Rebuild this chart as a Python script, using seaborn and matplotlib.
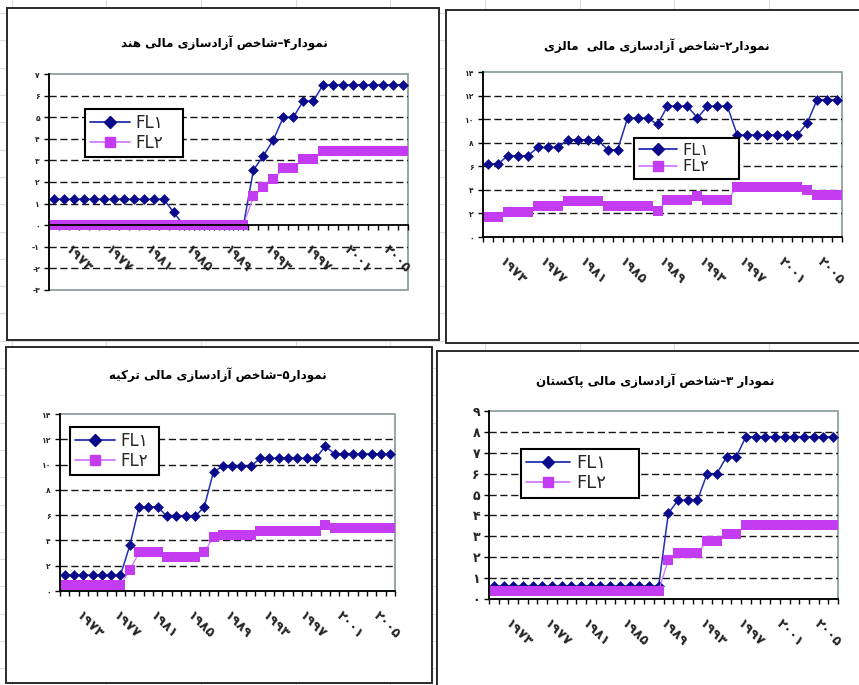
import re
import numpy as np
import pandas as pd
import matplotlib
matplotlib.use("Agg")
import matplotlib.pyplot as plt
import seaborn as sns
from matplotlib.lines import Line2D
from matplotlib.patches import Rectangle
from matplotlib.transforms import ScaledTranslation

# ---------------- data ----------------
years = list(range(1973, 2009))
year_ticks = [1973, 1977, 1981, 1985, 1989, 1993, 1997, 2001, 2005]
year_tick_labels = ["۱۹۷۳", "۱۹۷۷", "۱۹۸۱", "۱۹۸۵", "۱۹۸۹", "۱۹۹۳", "۱۹۹۷", "۲۰۰۱", "۲۰۰۵"]
series_names = ["FL۱", "FL۲"]

india_title = "نمودار۴–شاخص آزادسازی مالی هند"
india_fl1 = [1.2, 1.2, 1.2, 1.2, 1.2, 1.2, 1.2, 1.2, 1.2, 1.2, 1.2, 1.2,
             0.6, 0, 0, 0, 0, 0, 0, 0,
             2.55, 3.22, 3.95, 5.0, 5.0, 5.75, 5.75,
             6.5, 6.5, 6.5, 6.5, 6.5, 6.5, 6.5, 6.5, 6.5]
india_fl2 = [0, 0, 0, 0, 0, 0, 0, 0, 0, 0, 0, 0, 0, 0, 0, 0, 0, 0, 0, 0,
             1.33, 1.75, 2.12, 2.63, 2.63, 3.05, 3.05,
             3.42, 3.42, 3.42, 3.42, 3.42, 3.42, 3.42, 3.42, 3.42]
india_yticks = [-3, -2, -1, 0, 1, 2, 3, 4, 5, 6, 7]
india_ylabels = ["-۳", "-۲", "-۱", "۰", "۱", "۲", "۳", "۴", "۵", "۶", "۷"]

malaysia_title = "نمودار۲–شاخص آزادسازی مالی  مالزی"
malaysia_fl1 = [6.2, 6.2, 6.9, 6.9, 6.9, 7.6, 7.6, 7.6, 8.25, 8.25, 8.25, 8.25,
                7.4, 7.4, 10.1, 10.1, 10.1, 9.55, 11.1, 11.1, 11.1, 10.1, 11.1, 11.1,
                11.1, 8.65, 8.65, 8.65, 8.65, 8.65, 8.65, 8.65, 9.65, 11.65, 11.65, 11.65]
malaysia_fl2 = [1.7, 1.7, 2.1, 2.1, 2.1, 2.6, 2.6, 2.6, 3.05, 3.05, 3.05, 3.05,
                2.6, 2.6, 2.6, 2.6, 2.6, 2.2, 3.15, 3.15, 3.15, 3.45, 3.15, 3.15,
                3.15, 4.25, 4.25, 4.25, 4.25, 4.25, 4.25, 4.25, 3.95, 3.6, 3.6, 3.6]
malaysia_yticks = [0, 2, 4, 6, 8, 10, 12, 14]
malaysia_ylabels = ["۰", "۲", "۴", "۶", "۸", "۱۰", "۱۲", "۱۴"]

turkey_title = "نمودار۵–شاخص آزادسازی مالی ترکیه"
turkey_fl1 = [1.25, 1.25, 1.25, 1.25, 1.25, 1.25, 1.25, 3.6, 6.65, 6.65, 6.65,
              5.9, 5.9, 5.9, 5.9, 6.65, 9.45, 9.85, 9.85, 9.85, 9.85,
              10.5, 10.5, 10.5, 10.5, 10.5, 10.5, 10.5, 11.45,
              10.85, 10.85, 10.85, 10.85, 10.85, 10.85, 10.85]
turkey_fl2 = [0.5, 0.5, 0.5, 0.5, 0.5, 0.5, 0.5, 1.65, 3.05, 3.05, 3.05,
              2.7, 2.7, 2.7, 2.7, 3.05, 4.3, 4.45, 4.45, 4.45, 4.45,
              4.75, 4.75, 4.75, 4.75, 4.75, 4.75, 4.75, 5.2,
              4.95, 4.95, 4.95, 4.95, 4.95, 4.95, 4.95]
turkey_yticks = [0, 2, 4, 6, 8, 10, 12, 14]
turkey_ylabels = ["۰", "۲", "۴", "۶", "۸", "۱۰", "۱۲", "۱۴"]

pakistan_title = "نمودار ۳–شاخص آزادسازی مالی پاکستان"
pakistan_fl1 = [0.62, 0.62, 0.62, 0.62, 0.62, 0.62, 0.62, 0.62, 0.62,
                0.62, 0.62, 0.62, 0.62, 0.62, 0.62, 0.62, 0.62, 0.62,
                4.1, 4.73, 4.73, 4.73, 6.0, 6.0, 6.8, 6.8,
                7.77, 7.77, 7.77, 7.77, 7.77, 7.77, 7.77, 7.77, 7.77, 7.77]
pakistan_fl2 = [0.4, 0.4, 0.4, 0.4, 0.4, 0.4, 0.4, 0.4, 0.4,
                0.4, 0.4, 0.4, 0.4, 0.4, 0.4, 0.4, 0.4, 0.4,
                1.88, 2.18, 2.18, 2.18, 2.8, 2.8, 3.1, 3.1,
                3.55, 3.55, 3.55, 3.55, 3.55, 3.55, 3.55, 3.55, 3.55, 3.55]
pakistan_yticks = [0, 1, 2, 3, 4, 5, 6, 7, 8, 9]
pakistan_ylabels = ["۰", "۱", "۲", "۳", "۴", "۵", "۶", "۷", "۸", "۹"]

# ---------------- Persian shaping (matplotlib has no complex text layout) ----
FORMS = {
    "ا": ("\uFE8D", "\uFE8E", None, None),
    "آ": ("\uFE81", "\uFE82", None, None),
    "د": ("\uFEA9", "\uFEAA", None, None),
    "ر": ("\uFEAD", "\uFEAE", None, None),
    "ز": ("\uFEAF", "\uFEB0", None, None),
    "و": ("\uFEED", "\uFEEE", None, None),
    "ن": ("\uFEE5", "\uFEE6", "\uFEE7", "\uFEE8"),
    "م": ("\uFEE1", "\uFEE2", "\uFEE3", "\uFEE4"),
    "ش": ("\uFEB5", "\uFEB6", "\uFEB7", "\uFEB8"),
    "خ": ("\uFEA5", "\uFEA6", "\uFEA7", "\uFEA8"),
    "ص": ("\uFEB9", "\uFEBA", "\uFEBB", "\uFEBC"),
    "س": ("\uFEB1", "\uFEB2", "\uFEB3", "\uFEB4"),
    "ل": ("\uFEDD", "\uFEDE", "\uFEDF", "\uFEE0"),
    "ه": ("\uFEE9", "\uFEEA", "\uFEEB", "\uFEEC"),
    "ت": ("\uFE95", "\uFE96", "\uFE97", "\uFE98"),
    "ی": ("\uFBFC", "\uFBFD", "\uFBFE", "\uFBFF"),
    "ک": ("\uFB8E", "\uFB8F", "\uFB90", "\uFB91"),
    "پ": ("\uFB56", "\uFB57", "\uFB58", "\uFB59"),
}
DIGITS = "0123456789۰۱۲۳۴۵۶۷۸۹"


def shape(s):
    out = []
    for i, ch in enumerate(s):
        if ch not in FORMS:
            out.append(ch)
            continue
        iso, fin, ini, med = FORMS[ch]
        prev = s[i - 1] if i > 0 else ""
        nxt = s[i + 1] if i + 1 < len(s) else ""
        jp = prev in FORMS and FORMS[prev][2] is not None
        jn = ini is not None and nxt in FORMS
        out.append(med if (jp and jn) else fin if jp else ini if jn else iso)
    return "".join(out)


def rtl(s):
    shaped = shape(s)
    tokens = re.findall(r"[0-9\u06F0-\u06F9]+|[^0-9\u06F0-\u06F9]+", shaped)
    res = []
    for t in reversed(tokens):
        res.append(t if t[0] in DIGITS else t[::-1])
    return "".join(res)


# ---------------- figure ----------------
sns.set_theme(style="white")
plt.rcParams["font.family"] = ["DejaVu Sans"]

W, H = 859, 685
fig = plt.figure(figsize=(W / 100, H / 100), dpi=100)
fig.patch.set_facecolor("white")


def frect(x0, y0, x1, y1):
    return [x0 / W, 1 - y1 / H, (x1 - x0) / W, (y1 - y0) / H]


# spreadsheet background + chart frames
bg = fig.add_axes([0, 0, 1, 1], zorder=-10)
bg.set_xlim(0, W)
bg.set_ylim(H, 0)
bg.axis("off")
for xv in np.arange(11.5, W, 94.7):
    bg.axvline(xv, color="#dcdcdc", lw=0.8, zorder=1)
for yv in np.arange(13.1, H, 27.3):
    bg.axhline(yv, color="#dcdcdc", lw=0.8, zorder=1)
for (x0, y0, x1, y1) in [(7, 8, 439, 340), (446, 10, 866, 343),
                         (6, 347, 432, 683), (437, 351, 866, 692)]:
    bg.add_patch(Rectangle((x0, y0), x1 - x0, y1 - y0, facecolor="white",
                           edgecolor="#2a2a2a", lw=1.4, zorder=3))

C1_LINE, C1_MARK = "#2030b0", "#0a0a8c"
C2_LINE, C2_MARK = "#cf70ff", "#c43cf2"
BORDER = "#8fa0a0"

panels = [
    dict(title=india_title, fl1=india_fl1, fl2=india_fl2, rect=(49, 74, 408, 290),
         yt=india_yticks, yl=india_ylabels, yfs=5.5, title_xy=(224, 43),
         leg=(85, 109, 98, 47), legfs=12, axis0=True),
    dict(title=malaysia_title, fl1=malaysia_fl1, fl2=malaysia_fl2, rect=(483, 72, 842, 237),
         yt=malaysia_yticks, yl=malaysia_ylabels, yfs=5.5, title_xy=(657, 46),
         leg=(634, 138, 105, 40), legfs=11.5, axis0=False),
    dict(title=turkey_title, fl1=turkey_fl1, fl2=turkey_fl2, rect=(60, 414, 395, 591),
         yt=turkey_yticks, yl=turkey_ylabels, yfs=5.5, title_xy=(218, 375),
         leg=(70, 427, 89, 52), legfs=12, axis0=False),
    dict(title=pakistan_title, fl1=pakistan_fl1, fl2=pakistan_fl2, rect=(489, 411, 838, 599),
         yt=pakistan_yticks, yl=pakistan_ylabels, yfs=9, title_xy=(655, 381),
         leg=(521, 449, 118, 56), legfs=13, axis0=False),
]

for p in panels:
    ax = fig.add_axes(frect(*p["rect"]))
    ax.set_facecolor("white")
    yt = p["yt"]
    ax.set_xlim(years[0] - 0.5, years[-1] + 0.5)
    ax.set_ylim(yt[0], yt[-1])

    # dashed gridlines (inner ticks, skip the axis line)
    grid_vals = [v for v in yt[1:-1] if not (p["axis0"] and v == 0)]
    ax.hlines(grid_vals, years[0] - 0.5, years[-1] + 0.5, colors="#151515",
              lw=1.0, linestyles=(0, (5.2, 2.6)), zorder=1)

    df = pd.DataFrame({"year": years, "value": p["fl1"]})
    sns.lineplot(data=df, x="year", y="value", ax=ax, color=C1_LINE, lw=1.1,
                 marker="D", markersize=4.9, markerfacecolor=C1_MARK,
                 markeredgecolor=C1_MARK, markeredgewidth=0.4, zorder=3)
    df2 = pd.DataFrame({"year": years, "value": p["fl2"]})
    sns.lineplot(data=df2, x="year", y="value", ax=ax, color=C2_LINE, lw=0.9,
                 marker="s", markersize=6.6, markerfacecolor=C2_MARK,
                 markeredgecolor=C2_MARK, markeredgewidth=0, zorder=4)
    ax.set_xlabel("")
    ax.set_ylabel("")

    # plot-area border (grey) + black axes
    for s in ["top", "right"]:
        ax.spines[s].set_visible(False)
    ax.add_patch(Rectangle((0, 0), 1, 1, transform=ax.transAxes, fill=False,
                           edgecolor=BORDER, lw=1.3, clip_on=False, zorder=0.5))
    ax.spines["left"].set_color("black")
    ax.spines["left"].set_linewidth(1.3)
    ax.spines["bottom"].set_color("black")
    ax.spines["bottom"].set_linewidth(1.3)
    ax.spines["left"].set_zorder(5)
    ax.spines["bottom"].set_zorder(5)
    if p["axis0"]:
        ax.spines["bottom"].set_position(("data", 0))

    ax.set_yticks(yt, p["yl"], fontsize=p["yfs"], fontweight="bold")
    ax.tick_params(axis="y", direction="out", length=3.5, width=1.0, color="black",
                   pad=3, left=True)
    ax.set_xticks(year_ticks, year_tick_labels, fontsize=9.5, fontweight="bold",
                  rotation=-45, ha="left", va="top", rotation_mode="default")
    ax.set_xticks([y - 0.5 for y in years] + [years[-1] + 0.5], minor=True)
    ax.tick_params(axis="x", which="major", length=0, pad=13, bottom=True)
    ax.tick_params(axis="x", which="minor", direction="out", length=3.5, width=1.0,
                   color="black", bottom=True)
    ax.grid(False)

    # legend
    lx, ly, lw_, lh = p["leg"]
    handles = [Line2D([], [], color=C1_LINE, lw=1.3, marker="D", markersize=6.5,
                      markerfacecolor=C1_MARK, markeredgecolor=C1_MARK),
               Line2D([], [], color=C2_LINE, lw=1.2, marker="s", markersize=7.5,
                      markerfacecolor=C2_MARK, markeredgecolor=C2_MARK)]
    leg = ax.legend(handles, series_names, loc="upper left",
                    bbox_to_anchor=(lx / W, 1 - (ly + lh) / H, lw_ / W, lh / H),
                    bbox_transform=fig.transFigure, mode="expand", borderaxespad=0,
                    handlelength=2.4, handletextpad=0.35,
                    borderpad=0.3, labelspacing=0.1, fancybox=False, framealpha=1,
                    edgecolor="black", prop={"family": ["Liberation Sans Narrow", "DejaVu Sans"],
                                             "size": p["legfs"]})
    leg.get_frame().set_linewidth(1.5)
    leg.set_zorder(10)

    # title
    tx, ty = p["title_xy"]
    fig.text(tx / W, 1 - ty / H, rtl(p["title"]), ha="center", va="center",
             fontsize=8.6, fontweight="bold", color="black")

    # shift rotated year labels a little to the right (as in the original)
    off = ScaledTranslation(0.08, 0, fig.dpi_scale_trans)
    for lab in ax.get_xticklabels():
        lab.set_transform(lab.get_transform() + off)

fig.savefig("out.png", dpi=100)
